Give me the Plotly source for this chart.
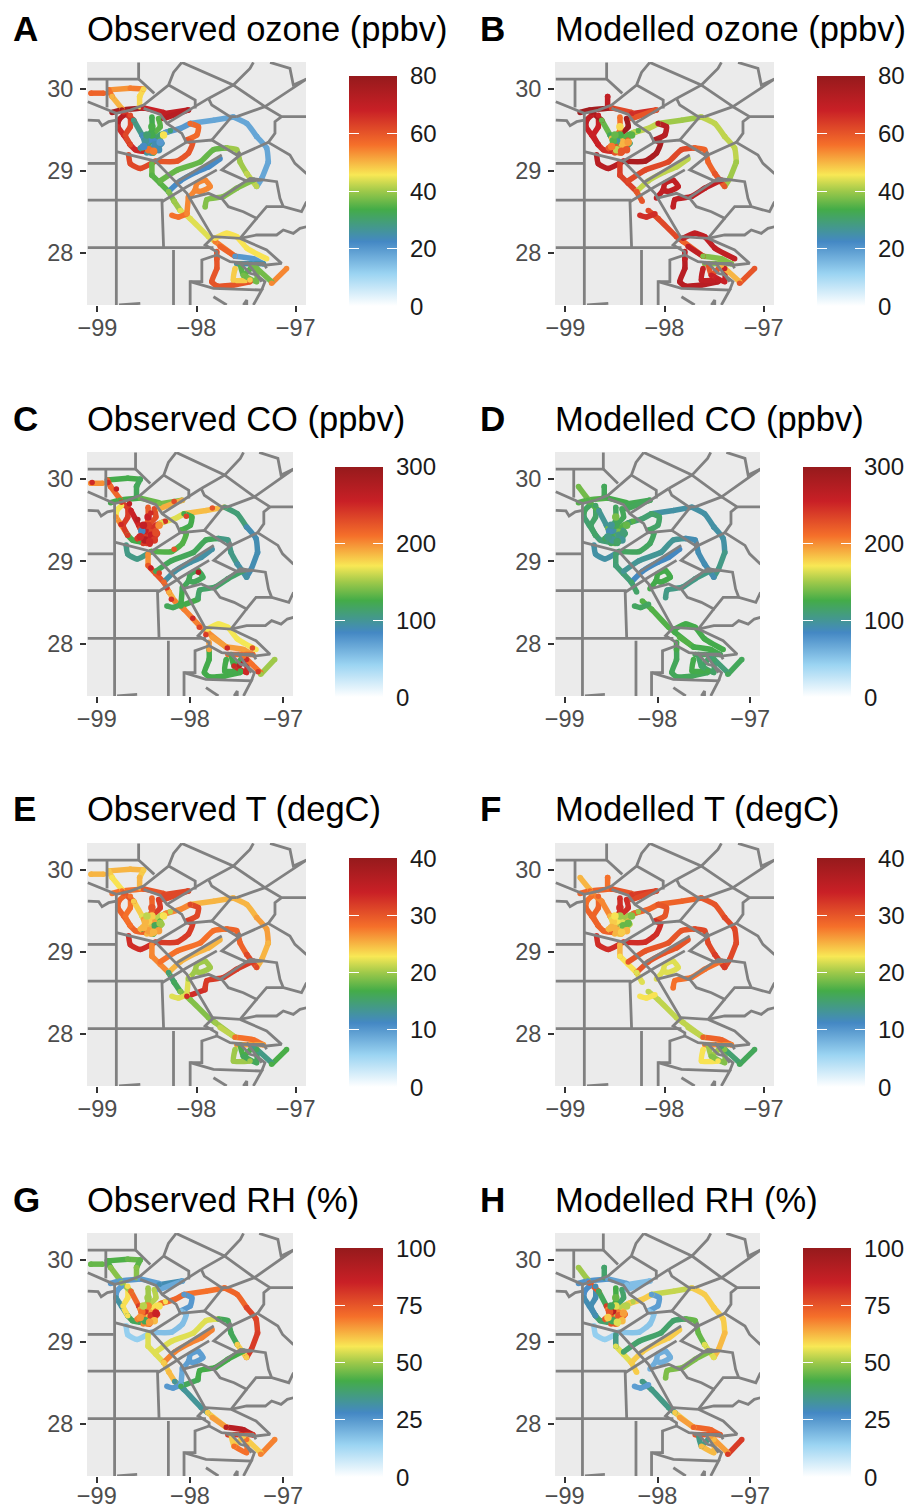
import plotly.graph_objects as go
from plotly.colors import sample_colorscale

N = None
XTICKS = [-99, -98, -97]
YTICKS = [28, 29, 30]
LON_RANGE = [-99.105, -96.895]
LAT_RANGE = [27.366, 30.33]
LETTERS = ["A", "B", "C", "D", "E", "F", "G", "H"]
TITLES = ["Observed ozone (ppbv)", "Modelled ozone (ppbv)", "Observed CO (ppbv)", "Modelled CO (ppbv)",
          "Observed T (degC)", "Modelled T (degC)", "Observed RH (%)", "Modelled RH (%)"]
BAR_MAX = [80, 80, 300, 300, 40, 40, 100, 100]
BAR_TICKS = [[0, 20, 40, 60, 80], [0, 20, 40, 60, 80], [0, 100, 200, 300], [0, 100, 200, 300],
             [0, 10, 20, 30, 40], [0, 10, 20, 30, 40], [0, 25, 50, 75, 100], [0, 25, 50, 75, 100]]

COUNTY_LON = [
    [-99.097, -98.584, -98.584], [-98.584, -98.426], [-98.903, -98.903],
    [-99.097, -98.809, -98.668, -98.534, -98.282, -98.232, -98.148],
    [-98.148, -97.628, -97.460, -97.426], [-98.282, -98.013, -98.013],
    [-97.879, -97.628, -97.309, -96.889], [-97.258, -97.057, -97.023, -96.889],
    [-97.309, -97.141, -96.889], [-97.141, -97.208, -97.208, -97.275, -97.057, -97.007, -96.889],
    [-97.879, -97.846, -97.661, -97.594], [-97.879, -98.299], [-97.644, -97.846], [-97.309, -97.594],
    [-98.534, -98.366, -98.299, -98.148, -98.104, -97.846, -97.594, -97.560],
    [-97.275, -97.560, -97.745, -97.493, -97.342],
    [-98.809, -98.809], [-98.809, -98.416, -98.097, -97.829], [-98.416, -98.104],
    [-99.097, -98.987, -98.953, -98.886, -98.809], [-99.097, -98.819], [-99.097, -98.349, -98.332],
    [-99.097, -97.829], [-98.232, -98.232],
    [-98.349, -98.097, -97.795], [-98.198, -97.745],
    [-98.081, -97.879, -97.762, -97.460, -97.309, -97.191, -97.158, -97.124, -96.940, -96.889],
    [-97.745, -97.678, -97.527, -97.393, -97.292, -97.124],
    [-97.393, -97.560, -97.829, -97.913, -97.795, -97.795, -97.661, -97.292, -97.141, -97.292, -97.560],
    [-97.560, -97.393, -97.191, -97.124, -97.023, -96.956, -96.889],
    [-97.795, -97.946, -97.946, -98.064, -98.064], [-98.064, -97.829, -97.342, -97.426],
    [-97.342, -97.309, -97.393, -97.493], [-97.829, -97.695], [-97.527, -97.493, -97.493],
    [-98.782, -98.567], [-97.611, -97.325, -97.292], [-97.560, -97.460, -97.393, -97.342],
]
COUNTY_LAT = [
    [30.122, 30.122, 30.325], [30.122, 29.947], [30.122, 29.776],
    [29.846, 29.703, 29.744, 29.805, 30.049, 30.203, 30.325],
    [30.325, 30.049, 30.252, 30.325], [30.049, 29.866, 29.764],
    [29.886, 30.049, 29.785, 30.122], [30.325, 30.252, 30.049, 30.122],
    [29.785, 29.663, 29.663], [29.663, 29.602, 29.459, 29.350, 29.195, 29.093, 28.967],
    [29.886, 29.805, 29.663, 29.663], [29.886, 29.581], [29.663, 29.378], [29.785, 29.663],
    [29.764, 29.691, 29.581, 29.459, 29.350, 29.378, 29.195, 29.236],
    [29.350, 29.195, 29.014, 28.878, 28.890],
    [29.703, 27.366], [29.236, 29.122, 28.728, 28.179], [29.122, 29.350],
    [29.622, 29.614, 29.553, 29.602, 29.622], [29.093, 29.093], [28.646, 28.646, 28.065],
    [28.065, 28.065], [28.037, 27.366],
    [28.626, 28.809, 29.014], [28.870, 29.195],
    [28.667, 28.728, 28.667, 28.911, 28.890, 28.870, 28.667, 28.565, 28.504, 28.626],
    [28.667, 28.565, 28.504, 28.423, 28.565, 28.565],
    [28.423, 28.179, 28.199, 28.098, 28.016, 27.976, 27.894, 27.854, 27.874, 28.037, 28.179],
    [28.179, 28.220, 28.220, 28.281, 28.240, 28.301, 28.321],
    [27.976, 27.915, 27.650, 27.650, 27.366], [27.650, 27.569, 27.549, 27.366],
    [27.549, 27.650, 27.732, 27.894], [27.467, 27.366], [27.366, 27.427, 27.366],
    [27.366, 27.386], [27.874, 27.874, 27.813], [27.874, 27.752, 27.732, 27.650],
]

TRACK_LON = [
    [-99.064, -98.936], [-98.886, -98.668], [-98.668, -98.534], [-98.534, -98.574], [-98.574, -98.574],
    [-98.886, -98.852], [-98.852, -98.752], [-98.852, -98.752, -98.534], [-98.534, -98.332], [-98.332, -98.081],
    [-98.332, -98.081], [-98.735, -98.785, -98.795], [-98.795, -98.735, -98.668], [-98.668, -98.617, -98.534],
    [-98.668, -98.668, -98.718, -98.668], [-98.735, -98.634], [-98.634, -98.550], [-98.550, -98.500],
    [-98.450, -98.450, -98.483, -98.483], [-98.383, -98.366, -98.450], [-98.450, -98.349, -98.416],
    [-98.483, -98.366, -98.265], [-98.534, -98.416, -98.466], [-98.366, -98.433, -98.550],
    [-98.450, -98.500, -98.567, -98.500], [-98.315, -98.164, -98.064], [-98.064, -97.829, -97.628],
    [-97.628, -97.493, -97.393], [-97.393, -97.292, -97.275], [-97.275, -97.342, -97.393],
    [-98.064, -97.980, -97.997, -98.097], [-98.685, -98.668, -98.567, -98.416],
    [-98.416, -98.198, -98.081, -98.040, -98.097], [-98.450, -98.450], [-98.450, -98.366, -98.282],
    [-98.366, -98.198, -97.963, -97.829, -97.695], [-97.695, -97.594, -97.560, -97.493], [-97.493, -97.393],
    [-98.282, -98.164, -97.997, -97.879, -97.762], [-98.282, -98.225], [-98.225, -98.164],
    [-98.164, -98.064, -97.879, -97.812], [-97.812, -97.611], [-98.248, -98.181, -98.097], [-98.097, -98.081],
    [-98.097, -97.913], [-98.081, -98.013, -97.997, -97.913, -97.862, -97.963, -98.013],
    [-97.913, -97.896, -97.728, -97.594, -97.426], [-97.812, -97.695, -97.594, -97.493, -97.292],
    [-97.795, -97.795, -97.846, -97.795, -97.628, -97.460], [-97.795, -97.795], [-97.762, -97.611],
    [-97.611, -97.426, -97.325], [-97.325, -97.594], [-97.611, -97.628, -97.460], [-97.560, -97.527, -97.426],
    [-97.527, -97.393, -97.393], [-97.426, -97.242], [-97.242, -97.091],
]
TRACK_LAT = [
    [29.95, 29.95], [29.99, 30.01], [30.01, 30.00], [30.00, 29.91], [29.91, 29.785],
    [29.99, 29.91], [29.91, 29.76], [29.715, 29.745, 29.77], [29.77, 29.715], [29.70, 29.745],
    [29.64, 29.745], [29.68, 29.62, 29.54], [29.54, 29.44, 29.32], [29.32, 29.26, 29.24],
    [29.68, 29.54, 29.44, 29.32], [29.72, 29.62], [29.62, 29.44], [29.44, 29.32],
    [29.66, 29.50, 29.42, 29.34], [29.64, 29.54, 29.44], [29.44, 29.34, 29.26],
    [29.34, 29.44, 29.49], [29.40, 29.36, 29.22], [29.38, 29.22, 29.28],
    [29.22, 29.32, 29.28, 29.22], [29.47, 29.52, 29.58], [29.58, 29.62, 29.66],
    [29.66, 29.58, 29.42], [29.42, 29.28, 29.11], [29.11, 28.91, 28.81],
    [29.58, 29.54, 29.44, 29.38], [29.20, 29.09, 29.03, 29.12],
    [29.12, 29.12, 29.22, 29.34, 29.38], [29.09, 28.95], [28.95, 28.85, 28.75],
    [28.88, 29.01, 29.11, 29.26, 29.28], [29.28, 29.26, 29.11, 28.97], [28.97, 28.81],
    [28.75, 28.88, 28.99, 29.05, 29.15], [28.75, 28.63], [28.63, 28.52],
    [28.52, 28.42, 28.20, 28.14], [28.14, 27.96], [28.46, 28.44, 28.48], [28.48, 28.69],
    [28.46, 28.54], [28.67, 28.77, 28.85, 28.89, 28.81, 28.75, 28.77],
    [28.56, 28.65, 28.69, 28.79, 28.89], [28.18, 28.24, 28.20, 28.06, 27.93],
    [27.93, 27.81, 27.65, 27.60, 27.61, 27.65], [28.02, 27.93], [28.08, 27.96],
    [27.96, 27.93, 27.87], [27.87, 27.87], [27.81, 27.67, 27.67], [27.87, 27.73, 27.85],
    [27.73, 27.65, 27.81], [27.85, 27.65], [27.63, 27.81],
]

OZONE_OBS = [58, 53, 55, 47, 47, 56, 50, 76, 68, 70, 72, 72, 66, 67, 62, 65, 28, 24, 33, 35, 24, 30, 22, 35, 26, 20, 18, 18, 18, 18,
             57, 62, 60, 36, 35, 36, 40, 42, 22, 38, 40, 44, 55, 56, 54, N, 54, 38, 46, 60, 60, 58, 20, 25, 48, 35, 37, 37, 54]
OZONE_MOD = [N, N, N, N, 70, N, N, 77, 62, 66, 60, 70, 68, 66, 68, 76, 36, 32, 56, 78, 30, 35, 50, 60, 60, 42, 40, 42, 42, 40,
             72, 72, 75, 64, 63, 62, 58, 60, 42, 60, N, 62, 58, 66, N, N, 70, 70, 70, 72, 70, 70, 38, 38, 70, 60, 68, 50, 60]
CO_OBS = [200, 125, 125, 120, 120, 220, 215, 125, 135, 140, 190, 170, 200, 125, 240, 240, 255, 250, 220, 230, 240, 245, 235, 230, 240, 165, 185, 110, 90, 90,
          125, 105, 130, 200, 225, 120, 105, 95, 95, 215, 190, 205, 200, 120, 125, 125, 120, 115, 170, 125, 195, 195, 195, 215, 125, 125, 250, 210, 150]
CO_MOD = [N, N, N, N, 120, N, 138, 130, 125, 122, 120, 118, 112, 110, 115, 130, 100, 100, 118, 120, 115, 130, 140, 105, 118, 112, 95, 95, 95, 105,
          115, 95, 118, 112, 110, 100, 90, 90, 85, 115, N, 130, 125, 118, N, N, 125, 105, 125, 120, 125, 130, 125, 120, 125, 115, 115, 110, 120]
T_OBS = [25, 25, 25, 24, 25, 24, 23, 28, 30, 31, 31, 29, 29, 29, 28, 30, 24, 22, 29, 32, 20, 21, 26, 17, 25, 27, 25, 25, 26, 25,
         31, 33, 32, 27, 27, 28, 29, 31, 25, 15, 16, 19, 20, 22, 22, 33, 20, 32, N, N, N, 21, 28, 26, 20, 17, 16, 14, 17]
T_MOD = [N, N, N, N, 28, N, 25, 29, 30, 32, 31, 28, 29, 29, 29, 27, 27, 25, 33, 33, 21, 20, 22, 25, 25, 29, 29, 30, 31, 31,
         30, 33, 33, 25, 23, 30, 31, 32, 30, 22, N, 21, 21, 23, N, N, 22, 28, N, N, N, 21, 29, 27, 23, 20, 19, 15, 16]
RH_OBS = [45, 43, 45, 44, 48, 43, 48, 25, 24, 30, 22, 24, 32, 40, 58, 50, 72, 80, 50, 52, 80, 58, 65, 75, 68, 72, 70, 72, 78, 80,
          25, 15, 18, 55, 55, 55, 40, 60, 68, 60, 62, 33, 60, 25, 22, 40, 24, 42, N, N, N, 65, 90, 80, N, 60, 70, 60, 68]
RH_MOD = [N, N, N, N, 38, N, 50, 26, 23, 18, 18, 27, 30, 38, 30, 75, 40, 80, 42, 38, 70, 52, 68, 62, 75, 60, 53, 60, 60, 62,
          24, 15, 17, 35, 55, 38, 45, 55, 60, 60, N, 35, 60, 24, N, N, 21, 47, N, N, N, 65, 72, 75, N, 35, 62, 65, 80]
PANEL_VALUES = [OZONE_OBS, OZONE_MOD, CO_OBS, CO_MOD, T_OBS, T_MOD, RH_OBS, RH_MOD]

# dense sampling cluster in the middle of the flight area
CLUSTER_LON = [-98.483, -98.517, -98.450, -98.416, -98.366, -98.483, -98.534, -98.450, -98.383, -98.332, -98.433, -98.500]
CLUSTER_LAT = [29.38, 29.37, 29.44, 29.32, 29.35, 29.26, 29.30, 29.54, 29.26, 29.44, 29.24, 29.44]
CLUSTER_VALUES = [
    [22, 26, 33, 24, 20, 56, 22, 34, 24, 46, 55, 30],
    [26, 35, 34, 50, 52, 42, 55, 47, 60, 35, 60, 36],
    [255, 85, 240, 255, 230, 270, 250, 255, 240, 200, 250, 260],
    [95, 90, 120, 105, 110, 100, 105, 140, 100, 135, 115, 100],
    [24, 25, 24, 16, 20, 26, 25, 30, 26, 23, 25, 21],
    [23, 24, 20, 18, 18, 25, 25, 33, 25, 19, 24, 23],
    [82, 70, 68, 80, 85, 40, 66, 50, 62, 58, 65, 52],
    [90, 75, 55, 75, 65, 40, 60, 45, 62, 52, 55, 40],
]
# high CO readings scattered along the observed track
CO_SPIKE_LON = [-99.05, -98.88, -98.79, -98.65, -98.56, -98.42, -98.43, -98.42, -98.33, -98.25, -98.20, -97.97,
                -97.90, -97.83, -97.60, -97.43, -97.47, -97.91, -97.27, -98.17, -98.04, -98.17, -97.33, -97.76, -98.74]
CO_SPIKE_LAT = [29.96, 29.96, 29.88, 29.70, 29.51, 29.59, 29.21, 28.92, 28.86, 28.68, 28.54, 28.31,
                28.20, 28.11, 27.95, 27.76, 27.74, 28.87, 27.66, 29.73, 29.55, 29.15, 27.95, 29.65, 29.45]
CO_SPIKE_VAL = [250, 250, 260, 265, 270, 250, 250, 255, 235, 240, 245, 250,
                235, 240, 250, 275, 265, 275, 240, 230, 235, 225, 230, 225, 250]

W, H = 911, 1510
COLORSCALE = [[0, "#ffffff"], [0.14, "#9bd4f2"], [0.28, "#4488c4"], [0.42, "#44ac48"], [0.50, "#9fc94a"],
              [0.57, "#f8e855"], [0.70, "#f5702a"], [0.85, "#c92026"], [1, "#961a1c"]]
BOXES = [(87, 306, 62, 305), (555, 774, 62, 305), (87, 293, 452, 696), (555, 760, 452, 696),
         (87, 306, 843, 1086), (555, 774, 843, 1086), (87, 293, 1233, 1476), (555, 760, 1233, 1476)]
BARS = [(349, 76, 306), (817, 76, 306), (335, 467, 697), (803, 467, 697),
        (349, 858, 1087), (817, 858, 1087), (335, 1248, 1477), (803, 1248, 1477)]
TITLE_Y = [29, 29, 419, 419, 809, 809, 1200, 1200]

px = lambda x: x / W
py = lambda y: 1 - y / H

fig = go.Figure()
layout = dict(width=W, height=H, margin=dict(l=0, r=0, t=0, b=0, autoexpand=False), paper_bgcolor="white",
              plot_bgcolor="#ebebeb", showlegend=False, hovermode=False, font=dict(family="Liberation Sans"),
              annotations=[])

for i in range(8):
    n = "" if i == 0 else str(i + 1)
    xa, ya = f"x{n}", f"y{n}"
    l, r, t, b = BOXES[i]
    tick = dict(showgrid=False, zeroline=False, showline=False, ticks="outside", ticklen=6, tickwidth=2,
                tickcolor="#333333", tickfont=dict(size=23.5, color="#4d4d4d", family="Liberation Sans"), fixedrange=True)
    layout[f"xaxis{n}"] = dict(domain=[px(l), px(r)], range=LON_RANGE, tickvals=XTICKS, anchor=ya,
                               ticklabelstandoff=-7 if i >= 6 else -4, **tick)
    layout[f"yaxis{n}"] = dict(domain=[py(b), py(t)], range=LAT_RANGE, tickvals=YTICKS, anchor=xa,
                               ticklabelstandoff=2, **tick)
    vals = PANEL_VALUES[i]
    vmax = BAR_MAX[i]
    mx, my, mc = [], [], []
    for lon, lat, v in zip(TRACK_LON, TRACK_LAT, vals):
        if v is None:
            continue
        col = sample_colorscale(COLORSCALE, [v / vmax])[0]
        fig.add_trace(go.Scatter(x=lon, y=lat, mode="lines", xaxis=xa, yaxis=ya,
                                 line=dict(color=col, width=5.5, shape="spline", smoothing=0.5), hoverinfo="skip"))
        mx += lon
        my += lat
        mc += [v] * len(lon)
    bx, bt, bb = BARS[i]
    bar_common = dict(cmin=0, cmax=vmax, colorscale=COLORSCALE)
    cb_common = dict(lenmode="pixels", len=bb - bt, thicknessmode="pixels", yanchor="top", y=py(bt),
                     xanchor="left", xpad=0, ypad=0, outlinewidth=0, tickvals=BAR_TICKS[i], ticks="inside",
                     tickcolor="white", tickwidth=1.2, ticklen=10, showticklabels=False, x=px(bx))
    layout[f"coloraxis{i*2+1}"] = dict(**bar_common, colorbar=dict(**cb_common, thickness=48))
    layout[f"coloraxis{i*2+2}"] = dict(**bar_common, colorbar=dict(**cb_common, thickness=10))
    fig.add_trace(go.Scatter(x=mx, y=my, mode="markers", xaxis=xa, yaxis=ya, hoverinfo="skip",
                             marker=dict(size=5.5, color=mc, coloraxis=f"coloraxis{i*2+1}", line=dict(width=0))))
    fig.add_trace(go.Scatter(x=mx[:1], y=my[:1], mode="markers", xaxis=xa, yaxis=ya, hoverinfo="skip",
                             marker=dict(size=5.5, color=mc[:1], coloraxis=f"coloraxis{i*2+2}", line=dict(width=0))))
    fig.add_trace(go.Scatter(x=CLUSTER_LON, y=CLUSTER_LAT, mode="markers", xaxis=xa, yaxis=ya, hoverinfo="skip",
                             marker=dict(size=7.5, color=CLUSTER_VALUES[i], coloraxis=f"coloraxis{i*2+1}", line=dict(width=0))))
    if i == 2:
        fig.add_trace(go.Scatter(x=CO_SPIKE_LON, y=CO_SPIKE_LAT, mode="markers", xaxis=xa, yaxis=ya, hoverinfo="skip",
                                 marker=dict(size=5.5, color=CO_SPIKE_VAL, coloraxis=f"coloraxis{i*2+1}", line=dict(width=0))))
    for lon, lat in zip(COUNTY_LON, COUNTY_LAT):
        fig.add_trace(go.Scatter(x=lon, y=lat, mode="lines", xaxis=xa, yaxis=ya, hoverinfo="skip",
                                 line=dict(color="#808080", width=2.8)))
    layout["annotations"].append(dict(text=TITLES[i], x=px(l - 2), y=py(TITLE_Y[i]), xref="paper", yref="paper",
                                      xanchor="left", yanchor="middle", showarrow=False,
                                      font=dict(size=34.5, color="black", family="Liberation Sans")))
    layout["annotations"].append(dict(text=f"<b>{LETTERS[i]}</b>", x=px(11 if i % 2 == 0 else 478), y=py(TITLE_Y[i] - 1),
                                      xref="paper", yref="paper", xanchor="left", yanchor="middle", showarrow=False,
                                      font=dict(size=35, color="black", family="Liberation Sans")))
    span = bb - bt
    for v in BAR_TICKS[i]:
        layout["annotations"].append(dict(text=str(v), x=px(bx + 48 + 11), y=py(bb - span * v / vmax),
                                          xref="paper", yref="paper", xanchor="left", yanchor="middle", showarrow=False,
                                          font=dict(size=24, color="#1a1a1a", family="Liberation Sans")))

fig.update_layout(**layout)
fig.write_html("out.html", config={"displayModeBar": False},
               post_script="document.body.style.margin='0';")
